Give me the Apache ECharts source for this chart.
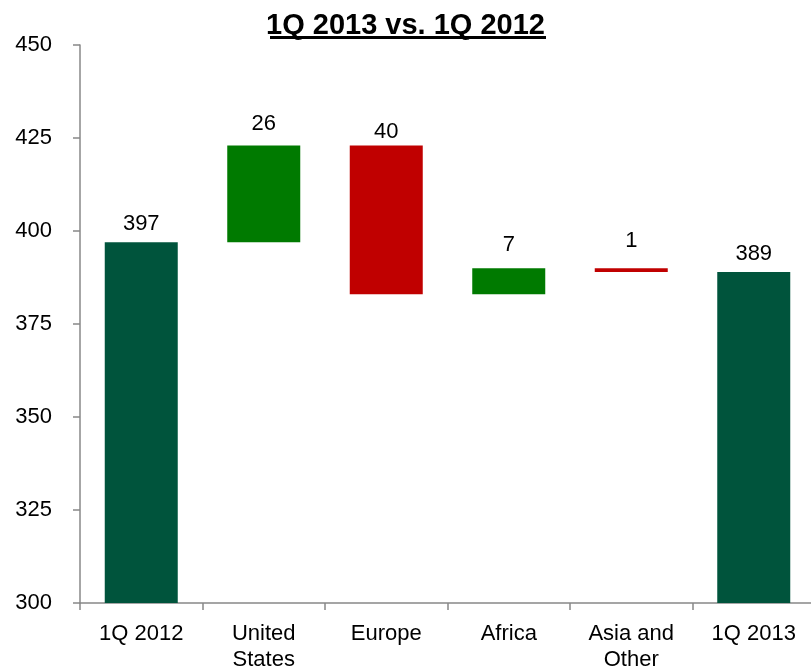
<!DOCTYPE html>
<html>
<head>
<meta charset="utf-8">
<script src="https://cdn.jsdelivr.net/npm/echarts@6/dist/echarts.min.js"></script>
<style>
  html, body { margin: 0; padding: 0; background: #fff; }
  #chart { width: 811px; height: 668px; }
</style>
</head>
<body>
<div id="chart"></div>
<script>
// ---- data ----
const chartTitle = '1Q 2013 vs. 1Q 2012';
const categories = ['1Q 2012', 'United\nStates', 'Europe', 'Africa', 'Asia and\nOther', '1Q 2013'];
// kind: 'total' = absolute bar, 'delta' = change from previous running total
const kinds = ['total', 'delta', 'delta', 'delta', 'delta', 'total'];
const values = [397, 26, -40, 7, -1, 389];
const yTicks = [300, 325, 350, 375, 400, 425, 450];

// ---- styles ----
const COLOR_TOTAL = '#00543C';
const COLOR_UP = '#007A00';
const COLOR_DOWN = '#C00000';
const FONT = 'Liberation Sans, Arial, sans-serif';
const labelGap = [7, 11, 3, 12, 16, 7]; // px between bar top and its label

// build waterfall pieces from the data
const baseData = [];
const visData = [];
let running = 0;
values.forEach((v, i) => {
  if (kinds[i] === 'total') {
    running = v;
    baseData.push(0);
    visData.push({ value: v, label: { distance: labelGap[i] }, shown: v, itemStyle: { color: COLOR_TOTAL } });
  } else {
    const start = running;
    const end = running + v;
    baseData.push(Math.min(start, end));
    visData.push({ value: Math.abs(v), label: { distance: labelGap[i] }, shown: Math.abs(v), itemStyle: { color: v >= 0 ? COLOR_UP : COLOR_DOWN } });
    running = end;
  }
});

const chart = echarts.init(document.getElementById('chart'), null, { renderer: 'canvas' });
chart.setOption({
  backgroundColor: '#ffffff',
  animation: false,
  title: {
    text: chartTitle,
    left: 'center',
    top: 6,
    textStyle: { fontFamily: FONT, fontSize: 29, fontWeight: 'bold', color: '#000' }
  },
  graphic: [{
    type: 'rect',
    shape: { x: 270, y: 36, width: 276, height: 3 },
    style: { fill: '#000' }
  }],
  grid: { left: 80, right: -4, top: 45, bottom: 65, containLabel: false, outerBoundsMode: 'none' },
  xAxis: {
    type: 'category',
    data: categories,
    boundaryGap: true,
    axisLine: { lineStyle: { color: '#888', width: 1.5 } },
    axisTick: { show: true, length: 7, interval: 0, lineStyle: { color: '#888', width: 1.5 } },
    axisLabel: {
      interval: 0, margin: 18, color: '#000',
      fontFamily: FONT, fontSize: 22, lineHeight: 26
    },
    splitLine: { show: false }
  },
  yAxis: {
    type: 'value',
    min: yTicks[0],
    max: yTicks[yTicks.length - 1],
    interval: 25,
    axisLine: { show: true, lineStyle: { color: '#888', width: 1.5 } },
    axisTick: { show: true, length: 7, lineStyle: { color: '#888', width: 1.5 } },
    axisLabel: { margin: 28, color: '#000', fontFamily: FONT, fontSize: 22 },
    splitLine: { show: false }
  },
  series: [
    {
      type: 'bar', stack: 'wf', data: baseData, barWidth: 73,
      itemStyle: { color: 'transparent' }, silent: true
    },
    {
      type: 'bar', stack: 'wf', data: visData, barWidth: 73,
      label: {
        show: true, position: 'top',
        color: '#000', fontFamily: FONT, fontSize: 22,
        formatter: p => p.data.shown
      }
    }
  ]
});
</script>
</body>
</html>
